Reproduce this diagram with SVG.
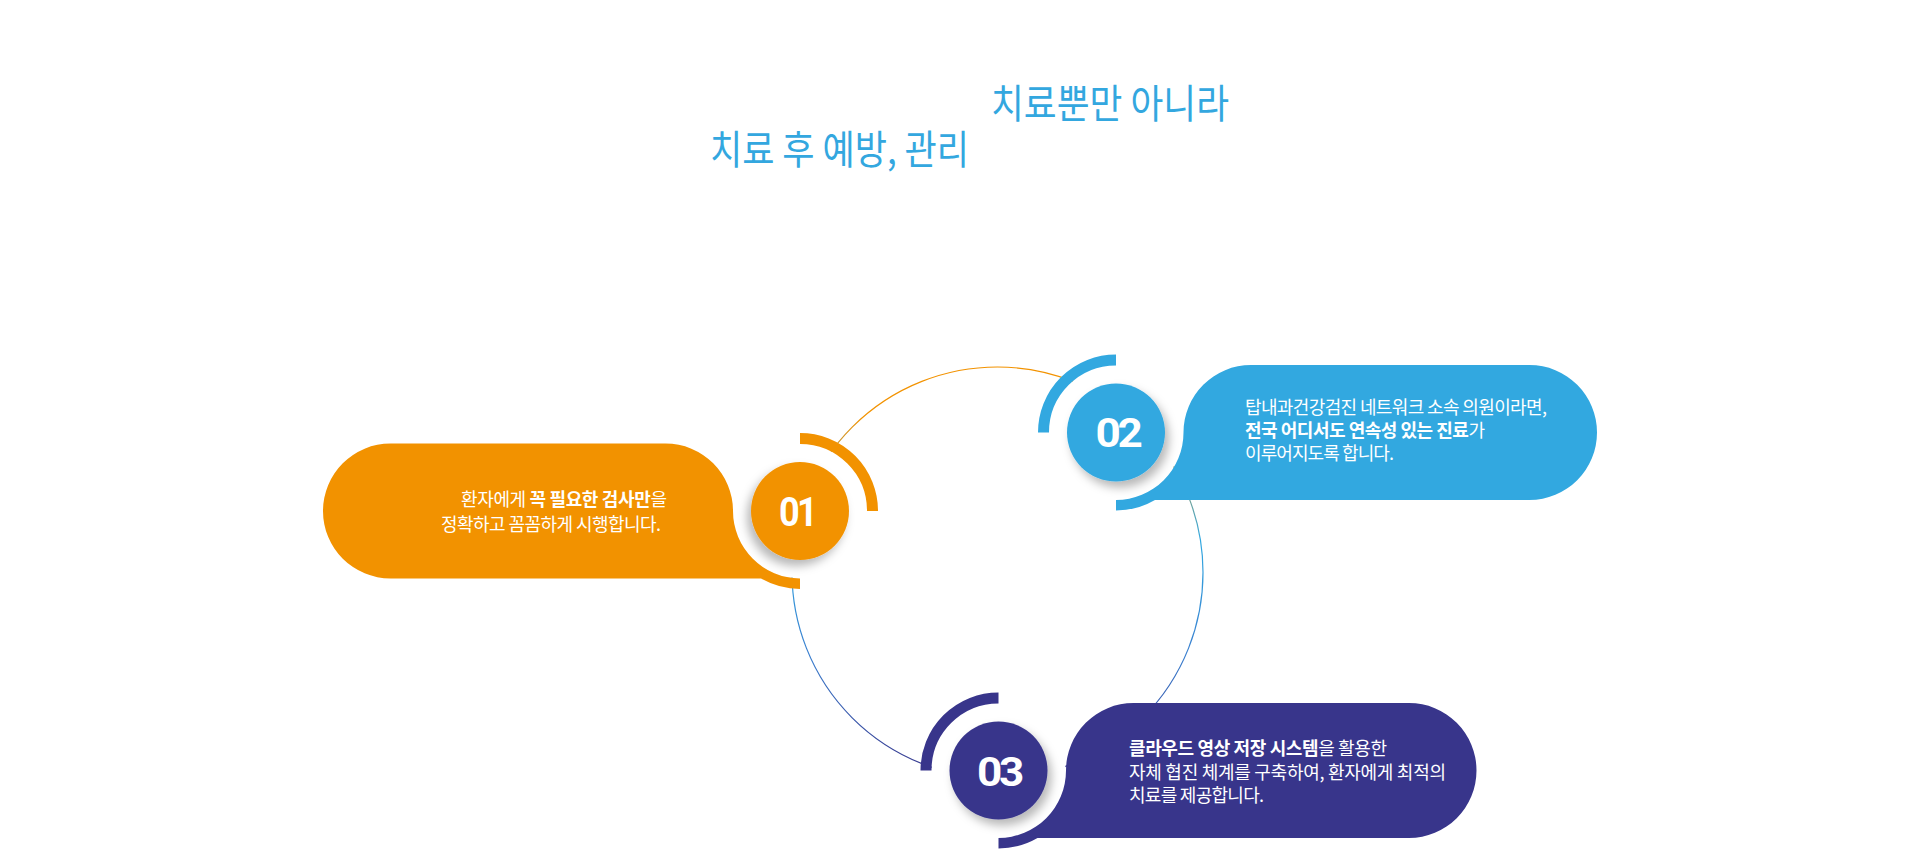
<svg xmlns="http://www.w3.org/2000/svg" width="1920" height="849" viewBox="0 0 1920 849">
  <defs>
    <linearGradient id="ringGrad" gradientUnits="userSpaceOnUse" x1="0" y1="367" x2="0" y2="778">
      <stop offset="0" stop-color="#f29200"/>
      <stop offset="0.12" stop-color="#f29200"/>
      <stop offset="0.42" stop-color="#33a9e1"/>
      <stop offset="0.7" stop-color="#3a7fcf"/>
      <stop offset="1" stop-color="#38348a"/>
    </linearGradient>
    <filter id="shL" x="-50%" y="-50%" width="200%" height="200%">
      <feDropShadow dx="-4" dy="6" stdDeviation="5" flood-color="#000" flood-opacity="0.28"/>
    </filter>
    <filter id="shR" x="-50%" y="-50%" width="200%" height="200%">
      <feDropShadow dx="4" dy="6" stdDeviation="5" flood-color="#000" flood-opacity="0.28"/>
    </filter>
  </defs>
  <style>
    .title { font-family: "Noto Sans CJK KR", "Noto Sans", sans-serif; font-size: 40px; fill: #33a7df; font-weight: 400; }
    .body { font-family: "Noto Sans CJK KR", "Noto Sans", sans-serif; font-size: 18px; fill: #ffffff; letter-spacing: -1px; }
    .b { font-weight: 700; }
    .num { font-family: Roboto, "Liberation Sans", sans-serif; font-weight: 700; font-size: 40px; fill: #ffffff; letter-spacing: -3px; text-anchor: middle; }
    .gap { fill: #ffffff; }
    .arc { fill: none; stroke-width: 11; }
    .o { fill: #f29200; } .os { stroke: #f29200; }
    .bl { fill: #32a8e0; } .bls { stroke: #32a8e0; }
    .nv { fill: #38358b; } .nvs { stroke: #38358b; }
  </style>
  <rect width="1920" height="849" fill="#ffffff"/>

  <g id="title">
    <text class="title" x="991" y="118" textLength="238" lengthAdjust="spacingAndGlyphs">치료뿐만 아니라</text>
    <text class="title" x="710" y="164" textLength="259" lengthAdjust="spacingAndGlyphs">치료 후 예방, 관리</text>
  </g>

  <g id="connectors">
    <circle cx="997.5" cy="572.5" r="205.5" fill="none" stroke="url(#ringGrad)" stroke-width="1.2"/>
  </g>

  <g id="node-01">
    <circle class="gap" cx="800" cy="511" r="67"/>
    <path class="arc os" d="M 800 438.5 A 72.5 72.5 0 0 1 872.5 511"/>
    <path class="o" d="M 390.5 443.5 H 665.5 A 67.5 67.5 0 0 1 733 511 A 67.5 67.5 0 0 0 800 578.5 V 589 A 78 78 0 0 1 761 578.5 H 390.5 A 67.5 67.5 0 0 1 390.5 443.5 Z"/>
    <circle class="o" cx="800" cy="511" r="49" filter="url(#shL)"/>
    <text class="num" x="797" y="526" textLength="36" lengthAdjust="spacingAndGlyphs">01</text>
    <text class="body" x="461" y="506" textLength="205" lengthAdjust="spacing">환자에게 <tspan class="b">꼭 필요한 검사만</tspan>을</text>
    <text class="body" x="441" y="531" textLength="219" lengthAdjust="spacing">정확하고 꼼꼼하게 시행합니다.</text>
  </g>

  <g id="node-02">
    <circle class="gap" cx="1116" cy="432.5" r="67"/>
    <path class="arc bls" d="M 1116 360 A 72.5 72.5 0 0 0 1043.5 432.5"/>
    <path class="bl" d="M 1116 500 V 510.5 A 78 78 0 0 0 1155 500 H 1529.5 A 67.5 67.5 0 0 0 1529.5 365 H 1251 A 67.5 67.5 0 0 0 1183.5 432.5 A 67.5 67.5 0 0 1 1116 500 Z"/>
    <circle class="bl" cx="1116" cy="432.5" r="49" filter="url(#shR)"/>
    <text class="num" x="1117.5" y="447" textLength="44" lengthAdjust="spacingAndGlyphs">02</text>
    <text class="body" x="1245" y="413.5" textLength="301" lengthAdjust="spacing">탑내과건강검진 네트워크 소속 의원이라면,</text>
    <text class="body" x="1245" y="437" textLength="239" lengthAdjust="spacing"><tspan class="b">전국 어디서도 연속성 있는 진료</tspan>가</text>
    <text class="body" x="1245" y="460" textLength="148" lengthAdjust="spacing">이루어지도록 합니다.</text>
  </g>

  <g id="node-03">
    <circle class="gap" cx="998.5" cy="770.5" r="67"/>
    <path class="arc nvs" d="M 998.5 698 A 72.5 72.5 0 0 0 926 770.5"/>
    <path class="nv" d="M 998.5 838 V 848.5 A 78 78 0 0 0 1037.5 838 H 1409 A 67.5 67.5 0 0 0 1409 703 H 1133.5 A 67.5 67.5 0 0 0 1066 770.5 A 67.5 67.5 0 0 1 998.5 838 Z"/>
    <circle class="nv" cx="998.5" cy="770.5" r="49" filter="url(#shR)"/>
    <text class="num" x="999" y="786" textLength="44" lengthAdjust="spacingAndGlyphs">03</text>
    <text class="body" x="1129" y="754.5" textLength="257" lengthAdjust="spacing"><tspan class="b">클라우드 영상 저장 시스템</tspan>을 활용한</text>
    <text class="body" x="1129" y="778.5" textLength="316" lengthAdjust="spacing">자체 협진 체계를 구축하여, 환자에게 최적의</text>
    <text class="body" x="1129" y="801.5" textLength="134" lengthAdjust="spacing">치료를 제공합니다.</text>
  </g>
</svg>
